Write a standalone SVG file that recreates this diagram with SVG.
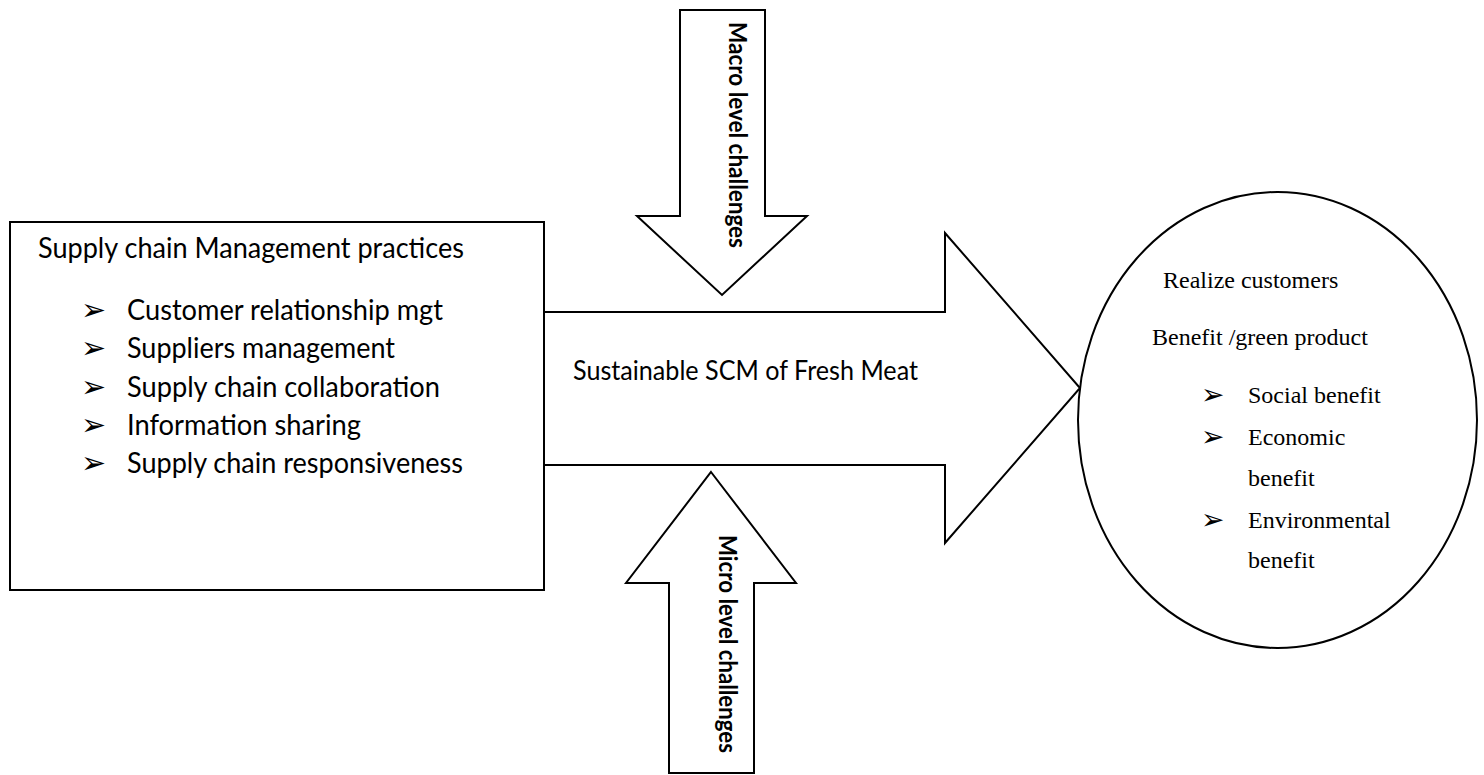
<svg xmlns="http://www.w3.org/2000/svg" width="1484" height="775" viewBox="0 0 1484 775">
<style>
.shape{fill:#fff;stroke:#000;stroke-width:2;stroke-linejoin:miter}
.sans{font-family:Lato,"Open Sans","Liberation Sans",sans-serif;fill:#000}
.serif{font-family:"Liberation Serif","Times New Roman",serif;font-size:24px;fill:#000}
.bul{font-family:"DejaVu Sans",sans-serif;fill:#000}
.vt{font-family:Lato,"Open Sans","Liberation Sans",sans-serif;font-weight:bold;font-size:24px;fill:#000}
</style>
<rect width="1484" height="775" fill="#fff"/>
<g id="connectors">
  <g id="main-arrow">
    <polygon class="shape" points="544,312 945,312 945,233 1080,388 945,543 945,465 544,465"/>
    <text class="sans" x="573" y="380" font-size="27" textLength="345" lengthAdjust="spacingAndGlyphs">Sustainable SCM of Fresh Meat</text>
  </g>
  <g id="macro-arrow">
    <polygon class="shape" points="680,10 765,10 765,216 807,216 722,295 637,216 680,216"/>
    <text class="vt" transform="translate(729,22) rotate(90)" x="0" y="0" textLength="226" lengthAdjust="spacingAndGlyphs">Macro level challenges</text>
  </g>
  <g id="micro-arrow">
    <polygon class="shape" points="711,472 796,583 754,583 754,773 669,773 669,583 626,583"/>
    <text class="vt" transform="translate(719,535) rotate(90)" x="0" y="0" textLength="218" lengthAdjust="spacingAndGlyphs">Micro level challenges</text>
  </g>
</g>
<g id="practices">
  <rect class="shape" x="10" y="222" width="534" height="368"/>
  <text class="sans" x="38" y="258" font-size="28" textLength="426" lengthAdjust="spacingAndGlyphs">Supply chain Management practices</text>
  <g class="bul" font-size="30">
    <text x="81" y="320">➢</text>
    <text x="81" y="358">➢</text>
    <text x="81" y="397">➢</text>
    <text x="81" y="435">➢</text>
    <text x="81" y="473">➢</text>
  </g>
  <g class="sans" font-size="28">
    <text x="127" y="320" textLength="316" lengthAdjust="spacingAndGlyphs">Customer relationship mgt</text>
    <text x="127" y="358" textLength="268" lengthAdjust="spacingAndGlyphs">Suppliers management</text>
    <text x="127" y="397" textLength="313" lengthAdjust="spacingAndGlyphs">Supply chain collaboration</text>
    <text x="127" y="435" textLength="234" lengthAdjust="spacingAndGlyphs">Information sharing</text>
    <text x="127" y="473" textLength="336" lengthAdjust="spacingAndGlyphs">Supply chain responsiveness</text>
  </g>
</g>
<g id="benefits">
  <ellipse class="shape" cx="1277.5" cy="420" rx="199.5" ry="228"/>
  <text class="serif" x="1163" y="288">Realize customers</text>
  <text class="serif" x="1152" y="345">Benefit /green product</text>
  <g class="bul" font-size="28">
    <text x="1201" y="404">➢</text>
    <text x="1201" y="446">➢</text>
    <text x="1201" y="529">➢</text>
  </g>
  <text class="serif" x="1248" y="403">Social benefit</text>
  <text class="serif" x="1248" y="445">Economic</text>
  <text class="serif" x="1248" y="486">benefit</text>
  <text class="serif" x="1248" y="528">Environmental</text>
  <text class="serif" x="1248" y="568">benefit</text>
</g>
</svg>
